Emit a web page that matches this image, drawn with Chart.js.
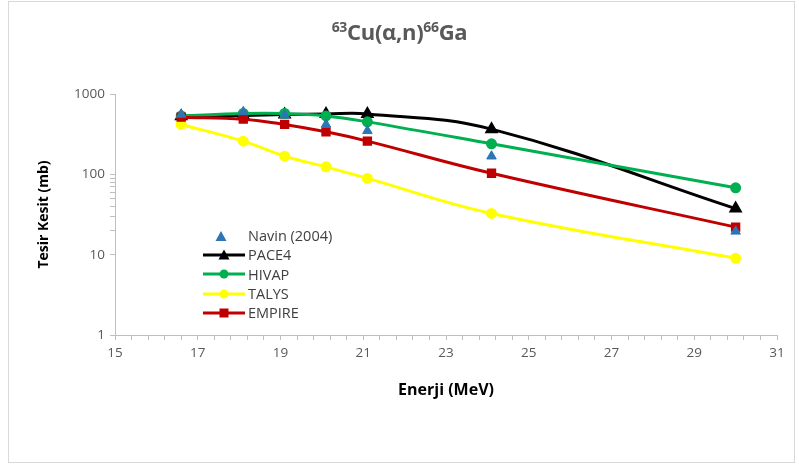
<!DOCTYPE html>
<html>
<head>
<meta charset="utf-8">
<script src="https://cdn.jsdelivr.net/npm/chart.js@4/dist/chart.umd.min.js"></script>
<style>
  html, body { margin: 0; padding: 0; background: #fff; }
  #wrap { position: relative; width: 799px; height: 468px; overflow: hidden; font-family: "Open Sans", "Liberation Sans", sans-serif; }
  #frame { position: absolute; left: 8px; top: 1px; width: 787px; height: 462px; border: 1px solid #D9D9D9; box-sizing: border-box; pointer-events: none; }
  #c { position: absolute; left: 0; top: 0; }
  #title { position: absolute; left: 0; width: 799px; top: 16px; text-align: center; font-size: 22px; font-weight: bold; color: #595959; letter-spacing: -0.3px; }
  #title sup { font-size: 14px; vertical-align: 8px; line-height: 0; }
  #legend { position: absolute; left: 203px; top: 226px; font-size: 14.5px; color: #404040; }
  .li { display: flex; align-items: center; height: 19.3px; }
  .li svg { width: 42px; height: 14px; margin-right: 3px; flex: none; }
</style>
</head>
<body>
<div id="wrap">
  <canvas id="c" width="799" height="468"></canvas>
  <div id="title"><sup>63</sup>Cu(α,n)<sup>66</sup>Ga</div>
  <div id="legend"></div>
  <div id="frame"></div>
</div>
<script>
// ---- data ----
const energies = [16.6, 18.1, 19.1, 20.1, 21.1, 24.1, 30.0];
const navin  = [556, 599, 545, 418, 348, 168, 19.5];
const pace4  = [530, 540, 555, 565, 565, 365, 37.5];
const hivap  = [534, 572, 572, 534, 450, 240, 68];
const talys  = [418, 259, 168, 124, 89, 32.6, 9.0];
const empire = [515, 486, 418, 338, 259, 103, 22];
const seriesNames = ['Navin (2004)', 'PACE4', 'HIVAP', 'TALYS', 'EMPIRE'];
const xTickLabels = [15, 17, 19, 21, 23, 25, 27, 29, 31];
const yTickLabels = [1, 10, 100, 1000];

const pts = arr => arr.map((v, i) => ({ x: energies[i], y: v }));

const datasets = [
  { label: seriesNames[0], data: pts(navin), showLine: false, pointStyle: 'triangle',
    pointRadius: 5.5, pointBackgroundColor: '#2E75B6', pointBorderColor: '#2E75B6', borderColor: '#2E75B6', backgroundColor: '#2E75B6', order: 0 },
  { label: seriesNames[1], data: pts(pace4), showLine: true, pointStyle: 'triangle', pointRadius: 5,
    borderColor: '#000000', backgroundColor: '#000000', pointBackgroundColor: '#000000', borderWidth: 3, tension: 0.4, order: 4 },
  { label: seriesNames[2], data: pts(hivap), showLine: true, pointStyle: 'circle', pointRadius: 4,
    borderColor: '#00B050', backgroundColor: '#00B050', pointBackgroundColor: '#00B050', borderWidth: 3, tension: 0.4, order: 3 },
  { label: seriesNames[3], data: pts(talys), showLine: true, pointStyle: 'circle', pointRadius: 4,
    borderColor: '#FFFF00', backgroundColor: '#FFFF00', pointBackgroundColor: '#FFFF00', borderWidth: 3, tension: 0.4, order: 5 },
  { label: seriesNames[4], data: pts(empire), showLine: true, pointStyle: 'rect', pointRadius: 4.5,
    borderColor: '#C00000', backgroundColor: '#C00000', pointBackgroundColor: '#C00000', borderWidth: 3, tension: 0.4, order: 2 }
];

const axisGray = '#BFBFBF';
const tickFont = { family: '"Open Sans", "Liberation Sans", sans-serif', size: 13.5 };

const chart = new Chart(document.getElementById('c'), {
  type: 'scatter',
  data: { datasets },
  options: {
    responsive: false,
    animation: false,
    devicePixelRatio: 1,
    layout: { padding: { top: 94, right: 22, left: 0, bottom: 0 } },
    plugins: { legend: { display: false }, title: { display: false }, tooltip: { enabled: false } },
    scales: {
      x: {
        type: 'linear', min: 15, max: 31,
        afterFit: s => { s.height = 133; },
        afterBuildTicks: s => { const t = []; for (let v = 15; v <= 31.0001; v += 0.4) t.push({ value: Math.round(v * 10) / 10 }); s.ticks = t; },
        ticks: {
          autoSkip: false, maxRotation: 0, color: '#595959', font: tickFont, padding: 5,
          callback: v => xTickLabels.includes(v) ? String(v) : ''
        },
        grid: { drawOnChartArea: false, drawTicks: true, tickLength: 5, color: axisGray, tickColor: axisGray },
        border: { color: axisGray, width: 1 },
        title: { display: true, text: 'Enerji (MeV)', color: '#000000',
          font: { family: '"Open Sans", "Liberation Sans", sans-serif', size: 16, weight: 'bold' },
          padding: { top: 0, bottom: 68 } }
      },
      y: {
        type: 'logarithmic', min: 1, max: 1000,
        afterFit: s => { s.width = 115; },
        afterBuildTicks: s => {
          const t = [];
          for (let d = 1; d <= 100; d *= 10) for (let k = 1; k <= 9; k++) t.push({ value: d * k, major: k === 1 });
          t.push({ value: 1000, major: true });
          s.ticks = t;
        },
        ticks: {
          autoSkip: false, color: '#595959', font: tickFont, padding: 5,
          callback: v => yTickLabels.includes(v) ? String(v) : ''
        },
        grid: {
          drawOnChartArea: false, drawTicks: true, tickLength: 5, color: axisGray,
          tickColor: ctx => {
            const v = ctx.tick ? ctx.tick.value : 0;
            if (yTickLabels.includes(v)) return axisGray;
            if (v > 10 && v < 100) return axisGray;
            return 'rgba(0,0,0,0)';
          }
        },
        border: { color: axisGray, width: 1 },
        title: { display: true, text: 'Tesir Kesit (mb)', color: '#000000',
          font: { family: '"Open Sans", "Liberation Sans", sans-serif', size: 14, weight: 'bold' },
          padding: { top: 36, bottom: 0 } }
      }
    }
  }
});

// HTML legend built from the chart datasets
const leg = document.getElementById('legend');
const ns = 'http://www.w3.org/2000/svg';
chart.data.datasets.forEach(ds => {
  const row = document.createElement('div');
  row.className = 'li';
  const svg = document.createElementNS(ns, 'svg');
  svg.setAttribute('viewBox', '0 0 42 14');
  if (ds.showLine !== false) {
    const ln = document.createElementNS(ns, 'line');
    ln.setAttribute('x1', 0); ln.setAttribute('x2', 42); ln.setAttribute('y1', 7); ln.setAttribute('y2', 7);
    ln.setAttribute('stroke', ds.borderColor); ln.setAttribute('stroke-width', 3);
    svg.appendChild(ln);
  }
  let m;
  if (ds.pointStyle === 'triangle') {
    m = document.createElementNS(ns, 'polygon');
    m.setAttribute('points', ds.showLine === false ? '18,2 23.5,12 12.5,12' : '21,1.5 26.5,11.5 15.5,11.5');
  } else if (ds.pointStyle === 'rect') {
    m = document.createElementNS(ns, 'rect');
    m.setAttribute('x', 16.5); m.setAttribute('y', 2.5); m.setAttribute('width', 9); m.setAttribute('height', 9);
  } else {
    m = document.createElementNS(ns, 'circle');
    m.setAttribute('cx', 21); m.setAttribute('cy', 7); m.setAttribute('r', 4.5);
  }
  m.setAttribute('fill', ds.pointBackgroundColor);
  svg.appendChild(m);
  const txt = document.createElement('span');
  txt.textContent = ds.label;
  row.appendChild(svg);
  row.appendChild(txt);
  leg.appendChild(row);
});
</script>
</body>
</html>
